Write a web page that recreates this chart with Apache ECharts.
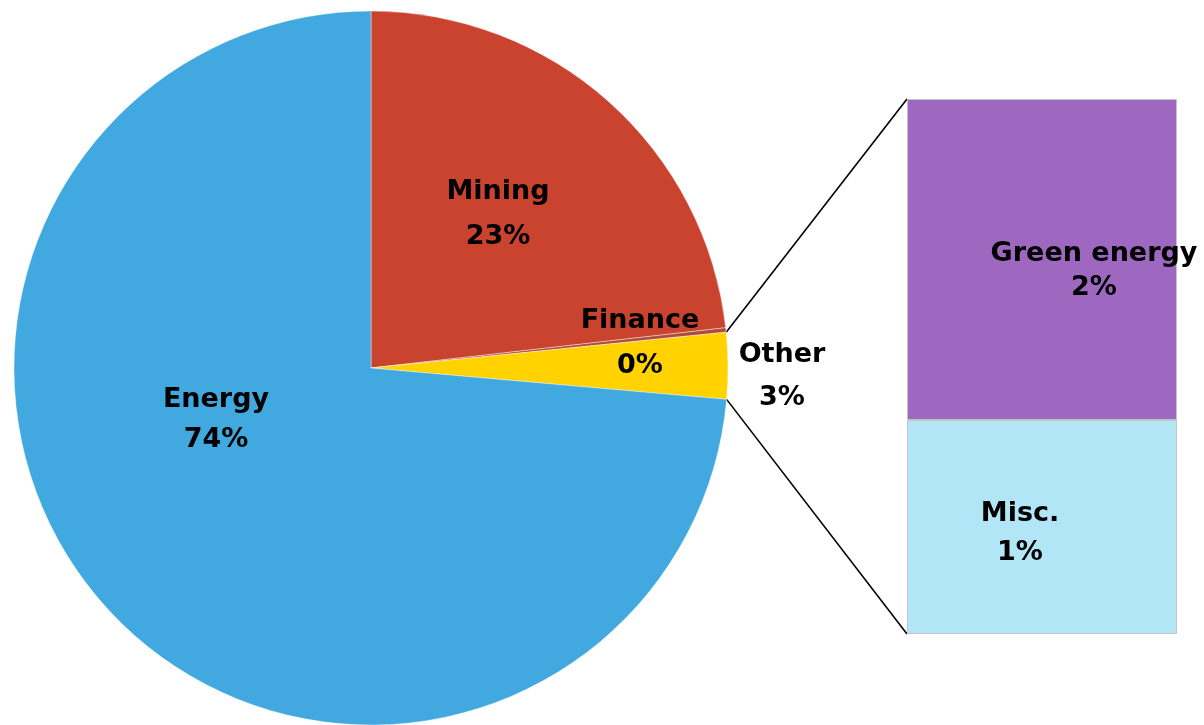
<!DOCTYPE html>
<html>
<head>
<meta charset="utf-8">
<script src="https://cdn.jsdelivr.net/npm/echarts@6/dist/echarts.min.js"></script>
<style>
  html, body { margin: 0; padding: 0; background: #ffffff; }
  #chart { width: 1204px; height: 725px; }
</style>
</head>
<body>
<div id="chart"></div>
<script>
// ---- data ----
var pieNames  = ['Mining', 'Finance', 'Other', 'Energy'];
var pieValues = [23.2, 0.2, 3.0, 73.6];
var barNames  = ['Green energy', 'Misc.'];
var barValues = [1.8, 1.2];

// ---- styles / layout ----
var pieColors = { 'Mining': '#C9432F', 'Finance': '#B04A3C', 'Other': '#FFD200', 'Energy': '#41A8E0' };
var barColors = { 'Green energy': '#9E67C0', 'Misc.': '#B2E5F6' };
var labelSpots = {
  'Mining':       { x: 498,  y: 214, lh: 45 },
  'Finance':      { x: 640,  y: 343, lh: 45 },
  'Other':        { x: 782,  y: 376, lh: 43 },
  'Energy':       { x: 216,  y: 420, lh: 40 },
  'Green energy': { x: 1094, y: 271, lh: 34 },
  'Misc.':        { x: 1020, y: 533, lh: 39 }
};
var labelFont = { fontFamily: 'DejaVu Sans', fontWeight: 'bold', fontSize: 27, color: '#000000' };

var pieTotal = pieValues.reduce(function (a, b) { return a + b; }, 0);
var barTotal = barValues.reduce(function (a, b) { return a + b; }, 0);

var pieData = pieNames.map(function (n, i) {
  return {
    name: n, value: pieValues[i],
    itemStyle: { color: pieColors[n] },
    label: { lineHeight: labelSpots[n].lh }
  };
});

function spotLayout(name) {
  var s = labelSpots[name];
  return { x: s.x, y: s.y, align: 'center', verticalAlign: 'middle' };
}

var barSeries = [];
for (var k = barNames.length - 1; k >= 0; k--) {
  (function (n, v) {
    barSeries.push({
      type: 'bar', name: n, stack: 'other', barWidth: '100%',
      data: [v],
      itemStyle: { color: barColors[n], borderColor: '#c4c4c4', borderWidth: 1 },
      label: {
        show: true, position: 'inside',
        formatter: function () { return n + '\n' + Math.round(v / pieTotal * 100) + '%'; },
        fontFamily: labelFont.fontFamily, fontWeight: labelFont.fontWeight,
        fontSize: labelFont.fontSize, color: labelFont.color,
        lineHeight: labelSpots[n].lh
      },
      labelLayout: function () { return spotLayout(n); },
      silent: true, animation: false
    });
  })(barNames[k], barValues[k]);
}

var chart = echarts.init(document.getElementById('chart'));
var option = {
  backgroundColor: '#ffffff',
  animation: false,
  grid: { left: 907, right: 27, top: 99, bottom: 91 },
  xAxis: { type: 'category', data: ['Other'], show: false, boundaryGap: true },
  yAxis: { type: 'value', min: 0, max: barTotal, show: false },
  series: [{
    type: 'pie',
    center: [371, 368],
    radius: 357,
    startAngle: 90,
    clockwise: true,
    avoidLabelOverlap: false,
    data: pieData,
    itemStyle: { borderColor: 'rgba(255,255,255,0.4)', borderWidth: 1 },
    label: {
      show: true, position: 'inside',
      formatter: function (p) { return p.name + '\n' + Math.round(p.value / pieTotal * 100) + '%'; },
      fontFamily: labelFont.fontFamily, fontWeight: labelFont.fontWeight,
      fontSize: labelFont.fontSize, color: labelFont.color
    },
    labelLine: { show: false },
    labelLayout: function (params) { return spotLayout(pieNames[params.dataIndex]); },
    emphasis: { disabled: true },
    silent: true
  }].concat(barSeries)
};
chart.setOption(option);

// connector lines from the "Other" slice to the bar
var pieSeries = chart.getModel().getSeriesByIndex(0);
var lay = pieSeries.getData().getItemLayout(pieNames.indexOf('Other'));
var pA = [lay.cx + lay.r * Math.cos(lay.startAngle), lay.cy + lay.r * Math.sin(lay.startAngle)];
var pB = [lay.cx + lay.r * Math.cos(lay.endAngle), lay.cy + lay.r * Math.sin(lay.endAngle)];
var pTop = pA[1] < pB[1] ? pA : pB;
var pBot = pA[1] < pB[1] ? pB : pA;
var xAx = chart.getModel().getComponent('xAxis', 0).axis;
var half = xAx.getBandWidth() / 2;
var cTop = chart.convertToPixel({ xAxisIndex: 0, yAxisIndex: 0 }, [0, barTotal]);
var cBot = chart.convertToPixel({ xAxisIndex: 0, yAxisIndex: 0 }, [0, 0]);
chart.setOption({
  graphic: [
    { type: 'line', shape: { x1: pTop[0], y1: pTop[1], x2: cTop[0] - half, y2: cTop[1] },
      style: { stroke: '#000000', lineWidth: 1.6 }, silent: true },
    { type: 'line', shape: { x1: pBot[0], y1: pBot[1], x2: cBot[0] - half, y2: cBot[1] },
      style: { stroke: '#000000', lineWidth: 1.6 }, silent: true }
  ]
});
</script>
</body>
</html>
